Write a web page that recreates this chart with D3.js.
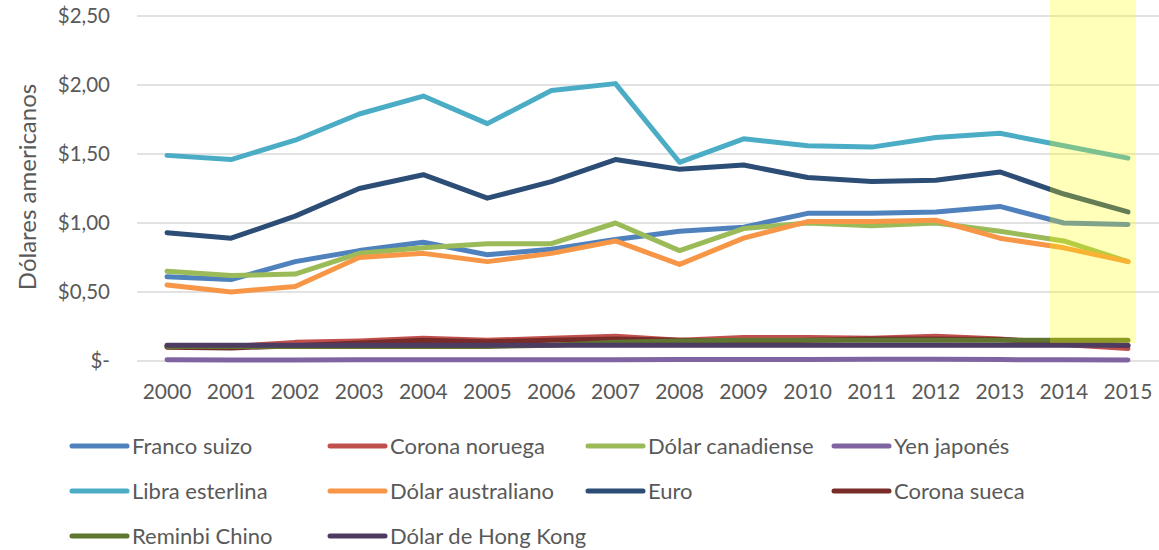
<!DOCTYPE html>
<html>
<head>
<meta charset="utf-8">
<script src="https://cdn.jsdelivr.net/npm/d3@7"></script>
<style>
  body { margin: 0; background: #fff; }
  svg text { font-family: Lato, "Open Sans", sans-serif; fill: #595959; }
</style>
</head>
<body>
<div id="chart"></div>
<script>
// años del eje x
const years = ["2000","2001","2002","2003","2004","2005","2006","2007",
               "2008","2009","2010","2011","2012","2013","2014","2015"];

// valores en dólares americanos
const francoSuizo     = [0.61,0.59,0.72,0.80,0.86,0.77,0.81,0.88,0.94,0.97,1.07,1.07,1.08,1.12,1.00,0.99];
const coronaNoruega   = [0.11,0.105,0.135,0.145,0.165,0.15,0.165,0.18,0.15,0.17,0.17,0.165,0.18,0.16,0.12,0.09];
const dolarCanadiense = [0.65,0.62,0.63,0.78,0.82,0.85,0.85,1.00,0.80,0.96,1.00,0.98,1.00,0.94,0.87,0.72];
const yenJapones      = [0.009,0.008,0.008,0.009,0.009,0.009,0.009,0.009,0.010,0.011,0.011,0.013,0.013,0.010,0.009,0.008];
const libraEsterlina  = [1.49,1.46,1.60,1.79,1.92,1.72,1.96,2.01,1.44,1.61,1.56,1.55,1.62,1.65,1.56,1.47];
const dolarAustraliano= [0.55,0.50,0.54,0.75,0.78,0.72,0.78,0.87,0.70,0.89,1.01,1.01,1.02,0.89,0.82,0.72];
const euro            = [0.93,0.89,1.05,1.25,1.35,1.18,1.30,1.46,1.39,1.42,1.33,1.30,1.31,1.37,1.21,1.08];
const coronaSueca     = [0.10,0.095,0.11,0.13,0.15,0.14,0.15,0.16,0.15,0.14,0.15,0.16,0.16,0.155,0.14,0.11];
const reminbiChino    = [0.105,0.105,0.105,0.105,0.105,0.105,0.115,0.135,0.145,0.15,0.15,0.15,0.15,0.15,0.15,0.15];
const dolarHongKong   = [0.115,0.115,0.115,0.115,0.115,0.115,0.115,0.115,0.115,0.115,0.115,0.115,0.115,0.115,0.115,0.115];

const seriesNames = ["Franco suizo","Corona noruega","Dólar canadiense","Yen japonés",
                     "Libra esterlina","Dólar australiano","Euro","Corona sueca",
                     "Reminbi Chino","Dólar de Hong Kong"];
const seriesValues = [francoSuizo, coronaNoruega, dolarCanadiense, yenJapones,
                      libraEsterlina, dolarAustraliano, euro, coronaSueca,
                      reminbiChino, dolarHongKong];
const colors = ["#4F81BD","#C0504D","#9BBB59","#8064A2","#4BACC6",
                "#F79646","#2C4D75","#772C2A","#5F7530","#4D3B62"];

const yTicks = [0, 0.5, 1, 1.5, 2, 2.5];
const highlightYears = ["2014","2015"];
const highlightFloor = 0.13;

const width = 1159, height = 550;

const svg = d3.select("#chart")
              .append("svg")
              .attr("width", width)
              .attr("height", height);

const x = d3.scalePoint().domain(years).range([135, 1160]).padding(0.5);
const y = d3.scaleLinear().domain([0, 2.5]).range([361, 16]);

// líneas de cuadrícula
svg.append("g")
   .selectAll("line")
   .data(yTicks)
   .enter()
   .append("line")
   .attr("x1", 137)
   .attr("x2", width)
   .attr("y1", d => y(d))
   .attr("y2", d => y(d))
   .style("stroke", "#d9d9d9")
   .style("stroke-width", 1.5);

// etiquetas del eje y
const yFormat = d => d === 0 ? "$-" : "$" + d.toFixed(2).replace(".", ",");
svg.append("g")
   .selectAll("text")
   .data(yTicks)
   .enter()
   .append("text")
   .attr("x", 110)
   .attr("y", d => y(d))
   .attr("dy", "0.35em")
   .attr("text-anchor", "end")
   .style("font-size", "20.5px")
   .text(yFormat);

svg.append("text")
   .attr("transform", "translate(36,187) rotate(-90)")
   .attr("text-anchor", "middle")
   .style("font-size", "24px")
   .text("Dólares americanos");

// etiquetas del eje x
svg.append("g")
   .selectAll("text")
   .data(years)
   .enter()
   .append("text")
   .attr("x", d => x(d))
   .attr("y", 392)
   .attr("dy", "0.35em")
   .attr("text-anchor", "middle")
   .style("font-size", "21px")
   .text(d => d);

// series
const line = d3.line()
               .x((d, i) => x(years[i]))
               .y(d => y(d));

svg.append("g")
   .selectAll("path")
   .data(seriesValues)
   .enter()
   .append("path")
   .attr("d", d => line(d))
   .style("fill", "none")
   .style("stroke", (d, i) => colors[i])
   .style("stroke-width", 5)
   .style("stroke-linejoin", "round")
   .style("stroke-linecap", "round");

// resaltado amarillo 2014-2015
svg.append("rect")
   .attr("x", x(highlightYears[0]) - 14)
   .attr("y", 0)
   .attr("width", x(highlightYears[1]) - x(highlightYears[0]) + 22)
   .attr("height", y(highlightFloor))
   .style("fill", "#ffff00")
   .style("fill-opacity", 0.27);

// leyenda
const legendCols = [72, 330, 588, 834];
const legendRows = [446, 491, 536];
const legend = svg.append("g")
                  .selectAll("g")
                  .data(seriesNames)
                  .enter()
                  .append("g")
                  .attr("transform", (d, i) => "translate(" + legendCols[i % 4] + "," + legendRows[Math.floor(i / 4)] + ")");

legend.append("line")
      .attr("x1", 0)
      .attr("x2", 55)
      .style("stroke", (d, i) => colors[i])
      .style("stroke-width", 5)
      .style("stroke-linecap", "round");

legend.append("text")
      .attr("x", 60)
      .attr("dy", "0.35em")
      .style("font-size", "22px")
      .text(d => d);
</script>
</body>
</html>
